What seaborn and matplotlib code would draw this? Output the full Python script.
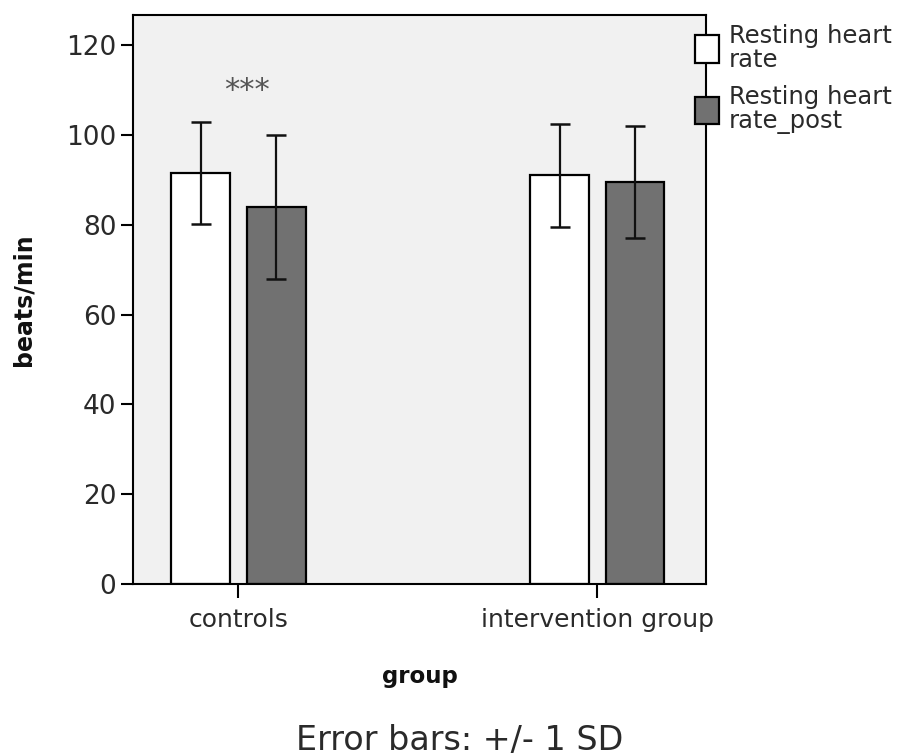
import matplotlib
matplotlib.use("Agg")
import matplotlib.pyplot as plt
import seaborn as sns
import pandas as pd

groups = ["controls", "intervention group"]
series = ["Resting heart rate", "Resting heart rate_post"]
legend_labels = ["Resting heart\nrate", "Resting heart\nrate_post"]
pre_mean = [91.5, 91.0]
pre_sd = [11.4, 11.4]
post_mean = [84.0, 89.5]
post_sd = [16.0, 12.4]
yticks = [0, 20, 40, 60, 80, 100, 120]

sns.set_style("white")
plt.rcParams["font.family"] = ["DejaVu Sans"]

df = pd.DataFrame({
    "group": groups * 2,
    "series": [series[0]] * 2 + [series[1]] * 2,
    "value": pre_mean + post_mean,
})

fig = plt.figure(figsize=(9.19, 7.56), dpi=100)
ax = fig.add_axes([0.1447, 0.2275, 0.6235, 0.7526])
ax.set_facecolor("#f1f1f1")

palette = {series[0]: "#ffffff", series[1]: "#717171"}
sns.barplot(data=df, x="group", y="value", hue="series", order=groups,
            hue_order=series, palette=palette, errorbar=None,
            width=0.42, gap=0.22, edgecolor="black", linewidth=1.6,
            saturation=1, ax=ax, legend=True)

sds = [pre_sd, post_sd]
means = [pre_mean, post_mean]
for cont, m, s in zip(ax.containers, means, sds):
    xs = [b.get_x() + b.get_width() / 2 for b in cont]
    ax.errorbar(xs, m, yerr=s, fmt="none", ecolor="#111111",
                elinewidth=1.6, capsize=7, capthick=1.8, zorder=5)

ax.text(0.025, 110, "***", ha="center", va="center", fontsize=22,
        color="#555555")

ax.set_xlim(-0.294, 1.303)
ax.set_ylim(0, 126.7)
ax.set_yticks(yticks)
ax.set_yticklabels([str(v) for v in yticks])
for sp in ax.spines.values():
    sp.set_visible(True)
    sp.set_color("black")
    sp.set_linewidth(1.5)
ax.tick_params(axis="y", left=True, length=9, width=1.5, labelsize=19,
               pad=3, colors="black", labelcolor="#2a2a2a")
ax.tick_params(axis="x", bottom=True, length=10, width=1.5, labelsize=18,
               pad=7, colors="black", labelcolor="#2a2a2a")
ax.set_xlabel("group", fontsize=16.5, fontweight="bold", labelpad=24,
              color="#111111")
ax.set_ylabel("beats/min", fontsize=17, fontweight="bold", labelpad=22,
              color="#111111")

handles, _ = ax.get_legend_handles_labels()
leg = ax.legend(handles, legend_labels, loc="upper left",
                bbox_to_anchor=(0.98, 0.985), frameon=False, fontsize=17.5,
                handlelength=1.0, handleheight=1.35, handletextpad=0.4,
                labelspacing=0.55, borderaxespad=0, borderpad=0)
for t in leg.get_texts():
    t.set_linespacing(1.0)
    t.set_color("#2a2a2a")
for h in leg.legend_handles:
    h.set_edgecolor("black")
    h.set_linewidth(1.6)

fig.text(0.5, 0.02, "Error bars: +/- 1 SD", ha="center", va="center",
         fontsize=24, color="#2a2a2a")

fig.savefig("out.png", dpi=100)
